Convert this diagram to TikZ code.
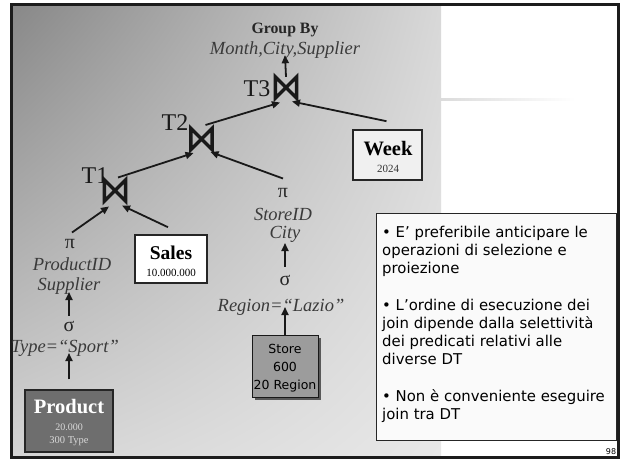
\documentclass[tikz,border=0pt]{standalone}
\usepackage{fontspec}
\setmainfont{Liberation Serif}
\newfontfamily\tahoma{DejaVu Sans}
\usetikzlibrary{arrows.meta,calc,shadows,shadings}
\definecolor{bgA}{HTML}{888888}
\definecolor{bgB}{HTML}{D8D8D8}
\definecolor{bgC}{HTML}{D4D4D4}
\definecolor{bgD}{HTML}{E8E8E8}
\definecolor{framec}{HTML}{1C1C1C}
\definecolor{labc}{HTML}{3A3A3A}
\definecolor{prodc}{HTML}{6E6E6E}
\definecolor{storec}{HTML}{9C9C9C}
\definecolor{notebg}{HTML}{FAFAFA}
\definecolor{weekbg}{HTML}{F0F0F0}
\begin{document}
\begin{tikzpicture}[x=1pt,y=-1pt,
  arr/.style={line width=1.8pt,draw=black!90,-{Triangle[length=8pt,width=7pt]}},
  bt/.style={minimum width=21pt,minimum height=21pt,inner sep=0pt},
  btline/.style={line width=3.5pt,line join=miter,draw=black!90},
  lab/.style={font=\fontsize{18.5}{20}\selectfont\itshape,text=labc,inner sep=0pt,anchor=base},
  gk/.style={font=\fontsize{20}{22}\selectfont,text=black!85,inner sep=0pt,anchor=base},
  tlab/.style={font=\fontsize{24}{26}\selectfont,text=black!90,inner sep=0pt},
  wbox/.style={draw=black!85,line width=1.6pt,fill=white,inner sep=0pt},
  bold/.style={font=\fontsize{#1}{#1}\selectfont\bfseries,inner sep=0pt,anchor=base},
  small/.style={font=\fontsize{#1}{#1}\selectfont,inner sep=0pt,anchor=base},
  sans/.style={font=\fontsize{#1}{#1}\selectfont\tahoma,inner sep=0pt,anchor=base}
]
\useasboundingbox (0,0) rectangle (624,461);
\fill[white] (0,0) rectangle (624,461);
% background
\shade[upper left=bgA,upper right=bgB,lower left=bgC,lower right=bgD] (12,5) rectangle (441,456);
\shade[left color=black!14,right color=white] (441,98) rectangle (575,100.5);
\draw[framec,line width=3pt] (11.5,4.5) rectangle (618.5,457.5);

% note box
\node[draw=black!85,line width=1pt,fill=notebg,minimum width=240pt,minimum height=227pt,anchor=north west,inner sep=0pt] (note) at (376,212.5) {};
\node[anchor=north west,inner sep=0pt,align=left,font=\fontsize{14.9}{18.2}\selectfont\tahoma] (notetxt) at (382,225.8)
{• E’ preferibile anticipare le\\
operazioni di selezione e\\
proiezione\\[18.2pt]
• L’ordine di esecuzione dei\\
join dipende dalla selettività\\
dei predicati relativi alle\\
diverse DT\\[18.2pt]
• Non è conveniente eseguire\\
join tra DT};
\node[sans=8] (pg) at (611,454.5) {98};

% top
\node[bold=15.8,text=black!85] (gb) at (285,33) {Group By};
\node[lab] (grp) at (285,54) {Month,City,Supplier};

% joins
\node[bt] (t3) at (286,87.5) {};
\node[bt] (t2) at (201.5,139) {};
\node[bt] (t1) at (115,190.5) {};
\foreach \t in {t1,t2,t3}
  \draw[btline] (\t.north west) -- (\t.south west) -- (\t.north east) -- (\t.south east) -- cycle;
\node[tlab] (t3l) at (257,88.5) {T3};
\node[tlab] (t2l) at (175,123) {T2};
\node[tlab] (t1l) at (95,176) {T1};

% left column
\node[gk] (pl) at (70,248) {π};
\node[lab] (pid) at (72,270) {ProductID};
\node[lab] (sup) at (69,290) {Supplier};
\node[gk] (sl) at (69,331) {σ};
\node[lab] (type) at (65,352) {Type=“Sport”};
\node[draw=black!85,line width=1.4pt,fill=prodc,minimum width=88pt,minimum height=62pt,inner sep=0pt] (prod) at (69,421) {};
\node[bold=20.5,text=white] (prodt) at (69,413) {Product};
\node[small=10,text=black!15] (prodn) at (69,430) {20.000};
\node[small=10.5,text=black!15] (prodty) at (69,443) {300 Type};

% sales
\node[wbox,minimum width=72pt,minimum height=48pt] (sales) at (171,259) {};
\node[bold=19.5] (salest) at (171,259) {Sales};
\node[small=11] (salesn) at (171,276) {10.000.000};

% middle column
\node[gk] (pm) at (283,197) {π};
\node[lab] (sid) at (283,220) {StoreID};
\node[lab] (city) at (285,238) {City};
\node[gk] (sm) at (285,285) {σ};
\node[lab] (reg) at (281,311) {Region=“Lazio”};
\node[draw=black!90,line width=1pt,fill=storec,minimum width=66pt,minimum height=62pt,inner sep=0pt,
      drop shadow={shadow xshift=3pt,shadow yshift=-3pt,fill=black!65,opacity=1}] (store) at (285,366) {};
\node[sans=12.5] (storet) at (285,353) {Store};
\node[sans=12.5] (storen) at (285,371.5) {600};
\node[sans=12.5] (storer) at (285,389.5) {20 Region};

% week
\node[wbox,fill=weekbg,minimum width=69pt,minimum height=50pt] (week) at (387.5,155) {};
\node[bold=20.5] (weekt) at (388,155) {Week};
\node[small=11,text=black!80] (weekn) at (388,172) {2024};

% connectors
\draw[arr] (t3.north) -- ([yshift=3pt]grp.south);
\draw[arr] ($(t2.center)+(4,-14)$) -- ($(t3.center)+(-6,15)$);
\draw[arr] ($(week.north)+(-1,-8)$) -- ($(t3.center)+(6,14)$);
\draw[arr] ($(t1.center)+(3,-13)$) -- ($(t2.center)+(-8,14)$);
\draw[arr] ($(pm.center)+(0,-14)$) -- ($(t2.center)+(9,13)$);
\draw[arr] ($(pl.center)+(2,-11)$) -- ($(t1.center)+(-6,16)$);
\draw[arr] ($(sales.north)+(-3,-7)$) -- ($(t1.center)+(7,15)$);
\draw[arr] ($(sl.north)+(0,-5)$) -- ($(sl.north |- sup.base)+(0,2)$);
\draw[arr] ($(prod.north)+(0,-10)$) -- ($(prod.north |- type.base)+(0,1)$);
\draw[arr] ($(sm.north)+(0,-8)$) -- ($(sm.north |- city.base)+(0,5)$);
\draw[arr] (store.north) -- ($(store.north |- reg.base)+(0,-4)$);
\end{tikzpicture}
\end{document}
